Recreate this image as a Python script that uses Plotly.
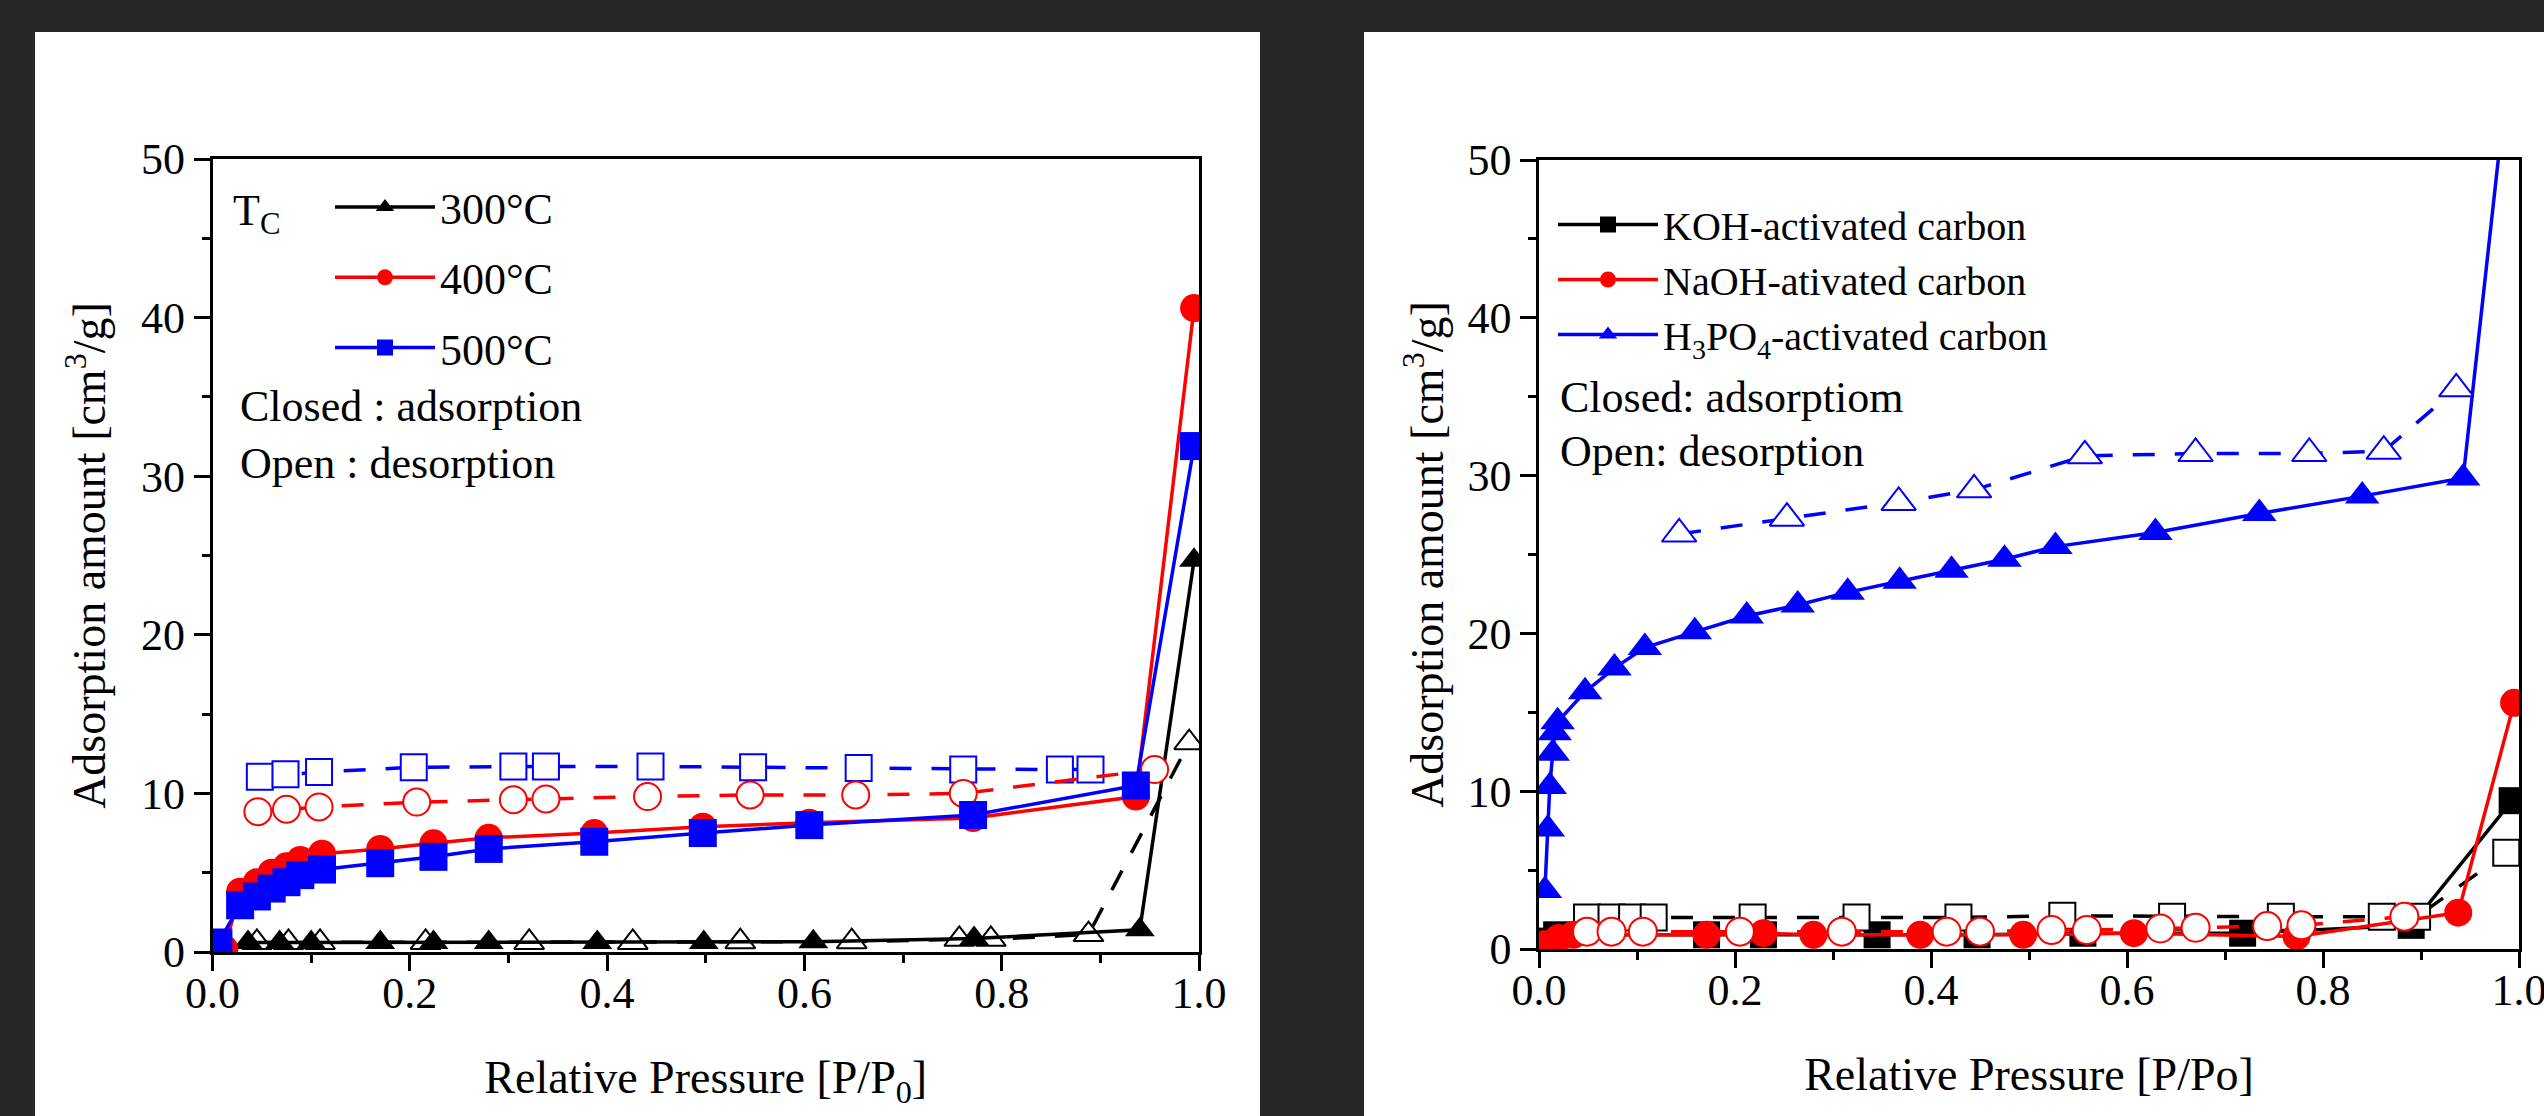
import plotly.graph_objects as go

# ---------------- Left panel: carbonization temperature ----------------
x300_ads = [0.01, 0.036, 0.068, 0.10, 0.17, 0.224, 0.28, 0.39, 0.498, 0.609, 0.772, 0.94, 0.995]
y300_ads = [0.0, 0.6, 0.6, 0.6, 0.6, 0.6, 0.6, 0.6, 0.6, 0.65, 0.85, 1.4, 24.7]
x300_des = [0.045, 0.077, 0.109, 0.216, 0.321, 0.426, 0.535, 0.648, 0.757, 0.789, 0.888, 0.99]
y300_des = [0.6, 0.6, 0.6, 0.6, 0.6, 0.6, 0.65, 0.65, 0.8, 0.8, 1.1, 13.2]

x400_ads = [0.012, 0.028, 0.045, 0.06, 0.075, 0.089, 0.111, 0.17, 0.224, 0.28, 0.387, 0.497, 0.605, 0.771, 0.936, 0.995]
y400_ads = [0.2, 3.8, 4.4, 5.0, 5.4, 5.8, 6.2, 6.5, 6.85, 7.2, 7.5, 7.9, 8.15, 8.45, 9.8, 40.6]
x400_des = [0.046, 0.075, 0.108, 0.207, 0.305, 0.338, 0.441, 0.545, 0.652, 0.761, 0.955]
y400_des = [8.85, 9.0, 9.15, 9.45, 9.6, 9.65, 9.8, 9.9, 9.9, 10.0, 11.5]

x500_ads = [0.006, 0.028, 0.045, 0.06, 0.075, 0.089, 0.111, 0.17, 0.224, 0.28, 0.387, 0.497, 0.605, 0.771, 0.936, 0.995]
y500_ads = [0.6, 2.95, 3.5, 4.0, 4.4, 4.85, 5.2, 5.6, 6.0, 6.5, 6.95, 7.5, 8.0, 8.64, 10.5, 31.9]
x500_des = [0.048, 0.074, 0.108, 0.204, 0.305, 0.338, 0.444, 0.548, 0.655, 0.761, 0.859, 0.890]
y500_des = [11.05, 11.2, 11.35, 11.65, 11.7, 11.7, 11.7, 11.65, 11.6, 11.5, 11.5, 11.5]

# ---------------- Right panel: activating agent ----------------
xKOH_ads = [0.005, 0.018, 0.171, 0.229, 0.345, 0.447, 0.555, 0.718, 0.89, 0.993]
yKOH_ads = [0.5, 0.9, 0.9, 0.9, 0.9, 0.9, 1.0, 1.0, 1.5, 9.4]
xKOH_des = [0.049, 0.074, 0.095, 0.117, 0.218, 0.324, 0.428, 0.534, 0.646, 0.757, 0.86, 0.896, 0.987]
yKOH_des = [2.0, 2.0, 2.0, 2.0, 2.0, 2.0, 2.0, 2.1, 2.05, 2.05, 2.05, 2.05, 6.1]

xNaOH_ads = [0.005, 0.02, 0.035, 0.171, 0.229, 0.28, 0.389, 0.494, 0.607, 0.773, 0.938, 0.995]
yNaOH_ads = [0.3, 0.7, 0.9, 0.9, 1.0, 0.9, 0.9, 0.9, 1.0, 0.8, 2.3, 15.6]
xNaOH_des = [0.049, 0.074, 0.106, 0.205, 0.309, 0.416, 0.45, 0.523, 0.559, 0.634, 0.67, 0.743, 0.778, 0.883]
yNaOH_des = [1.1, 1.1, 1.1, 1.1, 1.1, 1.1, 1.1, 1.2, 1.2, 1.3, 1.35, 1.45, 1.5, 2.05]

xH_ads = [0.006, 0.009, 0.011, 0.014, 0.016, 0.019, 0.047, 0.077, 0.108, 0.159, 0.212, 0.264,
          0.315, 0.368, 0.421, 0.475, 0.527, 0.629, 0.735, 0.840, 0.943, 0.993]
yH_ads = [3.7, 7.6, 10.3, 12.4, 13.7, 14.4, 16.3, 17.8, 19.1, 20.1, 21.1, 21.8,
          22.6, 23.3, 24.0, 24.7, 25.5, 26.4, 27.6, 28.7, 29.85, 58.0]
xH_des = [0.143, 0.253, 0.367, 0.444, 0.557, 0.670, 0.786, 0.862, 0.936]
yH_des = [26.3, 27.3, 28.3, 29.1, 31.25, 31.4, 31.4, 31.55, 35.5]

left_names = ["300°C", "400°C", "500°C"]
right_names = ["KOH-activated carbon", "NaOH-ativated carbon", "H<sub>3</sub>PO<sub>4</sub>-activated carbon"]

BLACK, RED, BLUE = "#000000", "#ff0000", "#0000ff"
FONT = "Liberation Serif"
W, H = 2544, 1116
DASH = "22px,20px"
BG = "#272727"

fig = go.Figure()


def add(x, y, color, symbol, size, filled, xa, ya, name=None, legend=None, group=None):
    fig.add_trace(go.Scatter(
        x=x, y=y, xaxis=xa, yaxis=ya,
        mode="lines+markers",
        name=name if name else "",
        showlegend=bool(name),
        legend=legend if legend else "legend",
        legendgroup=group,
        line=dict(color=color, width=3.5, dash="solid" if filled else DASH),
        marker=dict(symbol=symbol, size=size,
                    color=color if filled else "white",
                    line=dict(color=color, width=0 if filled else 2)),
    ))


# left panel
add(x300_des, y300_des, BLACK, "triangle-up", 26, False, "x", "y", group="a")
add(x300_ads, y300_ads, BLACK, "triangle-up", 26, True, "x", "y", left_names[0], "legend", "a")
add(x500_des, y500_des, BLUE, "square", 26, False, "x", "y", group="c")
add(x400_des, y400_des, RED, "circle", 27, False, "x", "y", group="b")
add(x400_ads, y400_ads, RED, "circle", 28, True, "x", "y", left_names[1], "legend", "b")
add(x500_ads, y500_ads, BLUE, "square", 28, True, "x", "y", left_names[2], "legend", "c")

# right panel
add(xKOH_ads, yKOH_ads, BLACK, "square", 27, True, "x2", "y2", right_names[0], "legend2", "d")
add(xKOH_des, yKOH_des, BLACK, "square", 26, False, "x2", "y2", group="d")
add(xNaOH_ads, yNaOH_ads, RED, "circle", 28, True, "x2", "y2", right_names[1], "legend2", "e")
add(xNaOH_des, yNaOH_des, RED, "circle", 28, False, "x2", "y2", group="e")
add(xH_ads, yH_ads, BLUE, "triangle-up", 30, True, "x2", "y2", right_names[2], "legend2", "f")
add(xH_des, yH_des, BLUE, "triangle-up", 30, False, "x2", "y2", group="f")


def px_x(v):
    return v / W


def px_y(v):
    return 1 - v / H


def axis(domain, title, anchor, is_x, standoff):
    d = dict(
        domain=domain, anchor=anchor,
        range=[0, 1] if is_x else [0, 50],
        dtick=0.2 if is_x else 10,
        tickformat=".1f" if is_x else "d",
        showline=True, linecolor="black", linewidth=2.5, mirror=True,
        ticks="outside", ticklen=16, tickwidth=2.5, tickcolor="black",
        showgrid=False, zeroline=False, automargin=False,
        ticklabeloverflow="allow",
        tickfont=dict(family=FONT, size=44, color="black"),
        minor=dict(ticks="outside", ticklen=8, tickwidth=2.5, tickcolor="black",
                   dtick=0.1 if is_x else 5, showgrid=False),
        title=dict(text=title, font=dict(family=FONT, size=46, color="black"), standoff=standoff),
    )
    if is_x:
        d["ticklabelstandoff"] = -16
    return d


lx = [px_x(212.5), px_x(1199)]
ly = [px_y(952), px_y(159)]
rx = [px_x(1539), px_x(2519)]
ry = [px_y(949), px_y(160)]

fig.update_layout(
    width=W, height=H,
    margin=dict(l=0, r=0, t=0, b=0, pad=0, autoexpand=False),
    paper_bgcolor=BG,
    plot_bgcolor="white",
    xaxis=axis(lx, "Relative Pressure [P/P<sub>0</sub>]", "y", True, 45),
    yaxis=axis(ly, "Adsorption amount [cm<sup>3</sup>/g]", "x", False, 21),
    xaxis2=axis(rx, "Relative Pressure [P/Po]", "y2", True, 45),
    yaxis2=axis(ry, "Adsorption amount [cm<sup>3</sup>/g]", "x2", False, 10),
    legend=dict(x=px_x(330), y=px_y(172), xanchor="left", yanchor="top",
                bgcolor="rgba(0,0,0,0)", borderwidth=0, itemwidth=100,
                tracegroupgap=10, traceorder="grouped",
                font=dict(family=FONT, size=44, color="black")),
    legend2=dict(x=px_x(1553), y=px_y(192), xanchor="left", yanchor="top",
                 bgcolor="rgba(0,0,0,0)", borderwidth=0, itemwidth=100,
                 tracegroupgap=0, traceorder="grouped",
                 font=dict(family=FONT, size=40, color="black")),
    showlegend=True,
)

# white panels behind the two charts
fig.add_shape(type="rect", xref="paper", yref="paper", x0=px_x(35), x1=px_x(1260),
              y0=0, y1=px_y(32), fillcolor="white", line=dict(width=0), layer="below")
fig.add_shape(type="rect", xref="paper", yref="paper", x0=px_x(1364), x1=1,
              y0=0, y1=px_y(32), fillcolor="white", line=dict(width=0), layer="below")

ann_font = dict(family=FONT, size=44, color="black")
fig.add_annotation(xref="paper", yref="paper", x=px_x(231), y=px_y(214), xanchor="left", yanchor="middle",
                   text="T<sub>C</sub>", showarrow=False, font=ann_font)
fig.add_annotation(xref="paper", yref="paper", x=px_x(238), y=px_y(407), xanchor="left", yanchor="middle",
                   text="Closed : adsorption", showarrow=False, font=ann_font)
fig.add_annotation(xref="paper", yref="paper", x=px_x(238), y=px_y(463), xanchor="left", yanchor="middle",
                   text="Open : desorption", showarrow=False, font=ann_font)
fig.add_annotation(xref="paper", yref="paper", x=px_x(1558), y=px_y(397), xanchor="left", yanchor="middle",
                   text="Closed: adsorptiom", showarrow=False, font=ann_font)
fig.add_annotation(xref="paper", yref="paper", x=px_x(1558), y=px_y(452), xanchor="left", yanchor="middle",
                   text="Open: desorption", showarrow=False, font=ann_font)

fig.write_html("out.html",
               config={"displayModeBar": False},
               post_script="document.body.style.margin='0px';document.body.style.overflow='hidden';"
                           "document.body.style.background='" + BG + "';")
